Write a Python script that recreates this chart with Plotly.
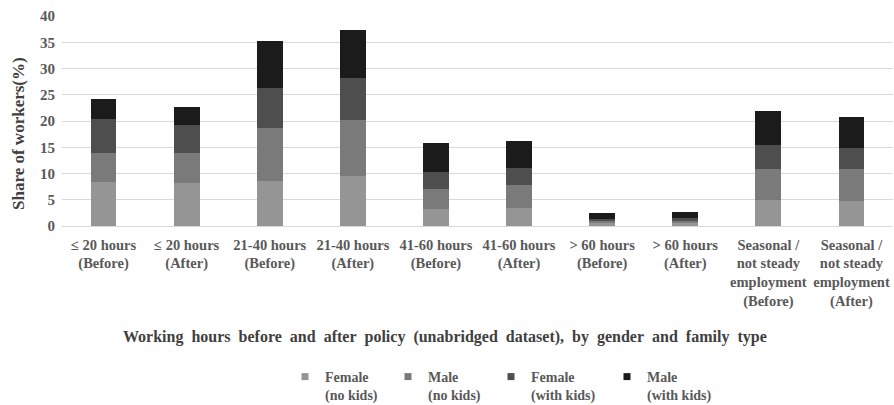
import plotly.graph_objects as go

categories = ["≤ 20 hours (Before)", "≤ 20 hours (After)", "21-40 hours (Before)", "21-40 hours (After)",
              "41-60 hours (Before)", "41-60 hours (After)", "> 60 hours (Before)", "> 60 hours (After)",
              "Seasonal / not steady employment (Before)", "Seasonal / not steady employment (After)"]
tick_labels = ["≤ 20 hours<br>(Before)", "≤ 20 hours<br>(After)", "21-40 hours<br>(Before)", "21-40 hours<br>(After)",
               "41-60 hours<br>(Before)", "41-60 hours<br>(After)", "> 60 hours<br>(Before)", "> 60 hours<br>(After)",
               "Seasonal /<br>not steady<br>employment<br>(Before)", "Seasonal /<br>not steady<br>employment<br>(After)"]

female_no_kids = [8.4, 8.2, 8.6, 9.6, 3.2, 3.4, 0.5, 0.5, 4.9, 4.8]
male_no_kids = [5.6, 5.7, 10.0, 10.6, 3.9, 4.5, 0.4, 0.5, 5.9, 6.0]
female_with_kids = [6.3, 5.4, 7.6, 7.9, 3.2, 3.1, 0.4, 0.5, 4.7, 4.0]
male_with_kids = [3.9, 3.4, 9.0, 9.3, 5.5, 5.2, 1.1, 1.1, 6.4, 5.9]

series = [
    ("Female<br>(no kids)", female_no_kids, "#959595", 58),
    ("Male<br>(no kids)", male_no_kids, "#7a7a7a", 58),
    ("Female<br>(with kids)", female_with_kids, "#4e4e4e", 71),
    ("Male<br>(with kids)", male_with_kids, "#1b1b1b", 71),
]

x_title = "Working hours before and after policy (unabridged dataset), by gender and family type"

FONT = "Liberation Serif"
GRAY = "#595959"

fig = go.Figure()
for name, vals, color, lw in series:
    fig.add_trace(go.Bar(x=categories, y=vals, name=name, marker_color=color,
                         marker_line_width=0, showlegend=False))
for name, vals, color, lw in series:
    fig.add_trace(go.Scatter(x=[None], y=[None], mode="markers", name=name,
                             marker=dict(symbol="square", size=7, color=color),
                             legendwidth=lw))

fig.update_layout(
    width=894, height=405,
    margin=dict(l=62, r=1, t=16, b=179),
    barmode="stack", bargap=0.69,
    plot_bgcolor="white", paper_bgcolor="white",
    font=dict(family=FONT, color=GRAY),
    xaxis=dict(tickmode="array", tickvals=categories, ticktext=tick_labels,
               tickfont=dict(family=FONT, size=14.5, color=GRAY, weight="bold"),
               showgrid=False, showline=False, ticks="", ticklabelstandoff=8),
    yaxis=dict(range=[0, 40], dtick=5, showgrid=True, gridcolor="#d9d9d9", gridwidth=1,
               zeroline=True, zerolinecolor="#d9d9d9", zerolinewidth=1,
               tickfont=dict(family=FONT, size=15, color=GRAY, weight="bold"),
               ticklabelstandoff=6),
    legend=dict(orientation="h", xref="container", yref="container",
                x=285 / 894, xanchor="left",
                y=1 - 361 / 405, yanchor="top", valign="top",
                font=dict(family=FONT, size=14, color=GRAY, weight="bold"),
                traceorder="normal", tracegroupgap=0),
    annotations=[
        dict(text="<b>Share of workers(%)</b>", xref="paper", yref="paper",
             x=(18 - 62) / 831, y=(226 - 134) / 210, textangle=-90, showarrow=False,
             xanchor="center", yanchor="middle",
             font=dict(family=FONT, size=17, color="#404040")),
        dict(text="<b>" + x_title.replace(" ", "\u00a0\u00a0") + "</b>",
             xref="paper", yref="paper", x=(445 - 62) / 831, y=-(337 - 226) / 210,
             showarrow=False, xanchor="center", yanchor="middle",
             font=dict(family=FONT, size=16, color="#404040")),
    ],
)

fig.write_html("out.html", config={"displayModeBar": False},
               post_script="document.body.style.margin='0';")
